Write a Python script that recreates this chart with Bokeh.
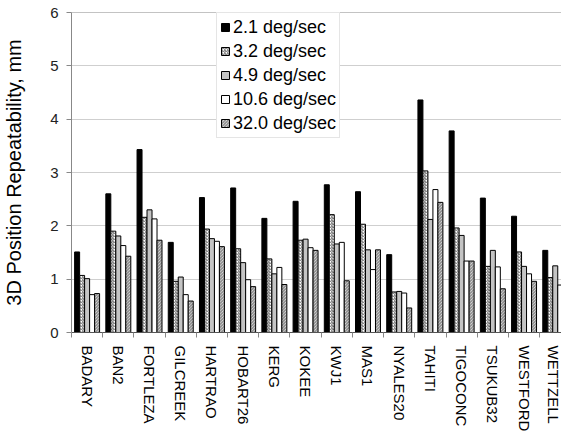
from bokeh.plotting import figure
from bokeh.models import FixedTicker, Span, Legend, LegendItem, ColumnDataSource, Range1d
from bokeh.embed import file_html
from bokeh.resources import INLINE

stations = ["BADARY", "BAN2", "FORTLEZA", "GILCREEK", "HARTRAO", "HOBART26", "KERG", "KOKEE",
            "KWJ1", "MAS1", "NYALES20", "TAHITI", "TIGOCONC", "TSUKUB32", "WESTFORD", "WETTZELL"]
series_names = ["2.1 deg/sec", "3.2 deg/sec", "4.9 deg/sec", "10.6 deg/sec", "32.0 deg/sec"]
v_2_1 = [1.51, 2.60, 3.43, 1.69, 2.53, 2.71, 2.14, 2.46, 2.77, 2.64, 1.46, 4.36, 3.78, 2.52, 2.18, 1.54]
v_3_2 = [1.07, 1.90, 2.16, 0.96, 1.94, 1.57, 1.38, 1.73, 2.21, 2.03, 0.76, 3.03, 1.96, 1.24, 1.51, 1.03]
v_4_9 = [1.01, 1.81, 2.30, 1.04, 1.76, 1.31, 1.10, 1.75, 1.66, 1.55, 0.77, 2.12, 1.82, 1.54, 1.24, 1.25]
v_10_6 = [0.71, 1.63, 2.13, 0.71, 1.71, 0.99, 1.22, 1.59, 1.69, 1.18, 0.74, 2.68, 1.34, 1.23, 1.10, 0.89]
v_32_0 = [0.73, 1.43, 1.73, 0.59, 1.61, 0.86, 0.90, 1.54, 0.97, 1.55, 0.46, 2.44, 1.34, 0.82, 0.96, 0.85]
all_values = [v_2_1, v_3_2, v_4_9, v_10_6, v_32_0]

FONT = "Liberation Sans"
n = len(stations)
centers = [i + 0.5 for i in range(n)]
bounds = [float(i) for i in range(n + 1)]

p = figure(width=561, height=435, output_backend="svg", toolbar_location=None,
           x_range=Range1d(0, 15.70), y_range=Range1d(0, 6),
           min_border_left=68, min_border_right=0, min_border_top=12, min_border_bottom=103)
p.outline_line_color = None
p.background_fill_color = "white"
p.border_fill_color = "white"

styles = [
    dict(fill_color="black", hatch_pattern=None),
    dict(fill_color="white", hatch_pattern="right_diagonal_line", hatch_color="#666666", hatch_scale=3.0, hatch_weight=1.0),
    dict(fill_color="#c4c4c4", hatch_pattern=None),
    dict(fill_color="white", hatch_pattern=None),
    dict(fill_color="#f0f0f0", hatch_pattern="left_diagonal_line", hatch_color="#777777", hatch_scale=3.0, hatch_weight=1.0),
]

bw = 0.16
offsets = [-0.32, -0.16, 0.0, 0.16, 0.32]
items = []
for k, (vals, name) in enumerate(zip(all_values, series_names)):
    src = ColumnDataSource(dict(x=[c + offsets[k] for c in centers], top=vals))
    st = {kk: vv for kk, vv in styles[k].items() if vv is not None}
    r = p.vbar(x="x", top="top", width=bw, bottom=0, source=src,
               line_color="black", line_width=1, **st)
    items.append(LegendItem(label=name, renderers=[r]))

legend = Legend(items=items, location=(145, 194))
legend.label_text_font = FONT
legend.label_text_font_size = "18px"
legend.label_text_color = "black"
legend.glyph_width = 10
legend.glyph_height = 10
legend.label_standoff = 3
legend.spacing = 2
legend.label_height = 22
legend.padding = 3
legend.margin = 0
legend.border_line_color = "#cccccc"
legend.background_fill_alpha = 1.0
p.add_layout(legend)

# grid
p.xgrid.grid_line_color = None
p.ygrid.grid_line_color = "#cfcfcf"
p.ygrid.ticker = FixedTicker(ticks=[1, 2, 3, 4, 5])
p.add_layout(Span(location=6, dimension="width", line_color="#888888", line_width=1))

# y axis
p.yaxis.ticker = FixedTicker(ticks=[0, 1, 2, 3, 4, 5, 6])
p.yaxis.axis_label = "3D Position Repeatability, mm"
p.yaxis.axis_label_text_font = FONT
p.yaxis.axis_label_text_font_size = "20px"
p.yaxis.axis_label_text_font_style = "normal"
p.yaxis.axis_label_text_color = "black"
p.yaxis.axis_label_standoff = 22
p.yaxis.major_label_text_font = FONT
p.yaxis.major_label_text_font_size = "15px"
p.yaxis.major_label_text_color = "#222222"
p.yaxis.major_label_standoff = 8
p.yaxis.major_tick_out = 5
p.yaxis.major_tick_in = 0
p.yaxis.minor_tick_out = 0
p.yaxis.minor_tick_in = 0
p.yaxis.axis_line_color = "#888888"
p.yaxis.major_tick_line_color = "#888888"

# x axis
p.xaxis.ticker = FixedTicker(ticks=centers, minor_ticks=bounds)
p.xaxis.major_label_overrides = {c: s for c, s in zip(centers, stations)}
p.xaxis.major_label_orientation = "vertical"
p.xaxis.major_label_text_font = FONT
p.xaxis.major_label_text_font_size = "15px"
p.xaxis.major_label_text_color = "black"
p.xaxis.major_label_standoff = 8
p.xaxis.major_tick_out = 0
p.xaxis.major_tick_in = 0
p.xaxis.minor_tick_out = 5
p.xaxis.minor_tick_in = 0
p.xaxis.minor_tick_line_color = "#888888"
p.xaxis.axis_line_color = "#555555"

open("out.html", "w").write(file_html(p, INLINE))
